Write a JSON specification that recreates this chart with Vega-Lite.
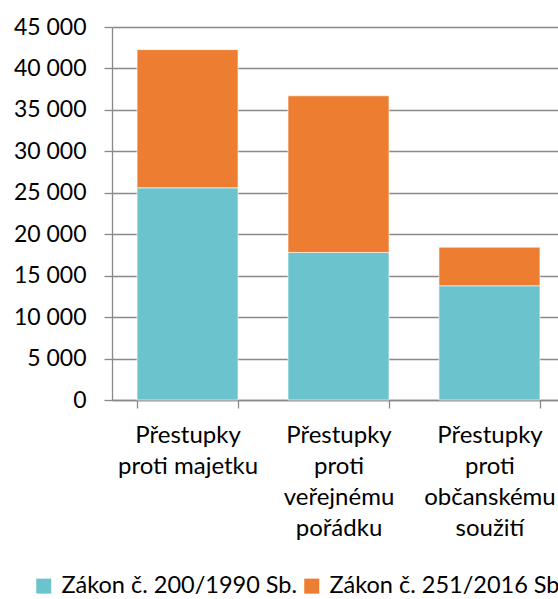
{
  "$schema": "https://vega.github.io/schema/vega-lite/v6.json",
  "autosize": "none",
  "width": 453,
  "height": 373,
  "padding": {"left": 112, "top": 27, "right": 0, "bottom": 199},
  "background": "white",
  "config": {
    "font": "Lato",
    "view": {"stroke": null}
  },
  "data": {
    "values": [
      {"kat": "Přestupky|proti majetku", "zakon": "Zákon č. 200/1990 Sb.", "pocet": 25600},
      {"kat": "Přestupky|proti majetku", "zakon": "Zákon č. 251/2016 Sb.", "pocet": 16670},
      {"kat": "Přestupky|proti|veřejnému|pořádku", "zakon": "Zákon č. 200/1990 Sb.", "pocet": 17800},
      {"kat": "Přestupky|proti|veřejnému|pořádku", "zakon": "Zákon č. 251/2016 Sb.", "pocet": 18900},
      {"kat": "Přestupky|proti|občanskému|soužití", "zakon": "Zákon č. 200/1990 Sb.", "pocet": 13780},
      {"kat": "Přestupky|proti|občanskému|soužití", "zakon": "Zákon č. 251/2016 Sb.", "pocet": 4660}
    ]
  },
  "mark": {"type": "bar", "stroke": "#ffffff", "strokeWidth": 0.6},
  "encoding": {
    "x": {
      "field": "kat",
      "type": "nominal",
      "sort": null,
      "scale": {"paddingInner": 0.331, "paddingOuter": 0.166},
      "axis": {
        "title": null,
        "labelAngle": 0,
        "labelExpr": "split(datum.label, '|')",
        "labelFontSize": 24,
        "labelColor": "#000000",
        "labelLineHeight": 31,
        "labelBaseline": "top",
        "labelPadding": 15,
        "labelLimit": 300,
        "tickBand": "extent",
        "tickSize": 8,
        "tickColor": "#898989",
        "tickWidth": 1.3,
        "domainColor": "#898989",
        "domainWidth": 1.3,
        "grid": false
      }
    },
    "y": {
      "field": "pocet",
      "type": "quantitative",
      "stack": "zero",
      "scale": {"domain": [0, 45000], "nice": false},
      "axis": {
        "title": null,
        "values": [0, 5000, 10000, 15000, 20000, 25000, 30000, 35000, 40000, 45000],
        "labelExpr": "replace(format(datum.value, ',d'), ',', ' ')",
        "labelFontSize": 23,
        "labelColor": "#000000",
        "labelPadding": 18,
        "tickSize": 8,
        "tickColor": "#898989",
        "tickWidth": 1.3,
        "domainColor": "#898989",
        "domainWidth": 1.3,
        "grid": true,
        "gridColor": "#898989",
        "gridWidth": 1.3
      }
    },
    "order": {"field": "zakon", "sort": "ascending"},
    "color": {
      "field": "zakon",
      "type": "nominal",
      "scale": {
        "domain": ["Zákon č. 200/1990 Sb.", "Zákon č. 251/2016 Sb."],
        "range": ["#6BC3CD", "#ED7D31"]
      },
      "legend": {
        "title": null,
        "orient": "none",
        "direction": "horizontal",
        "legendX": -80,
        "legendY": 547,
        "symbolType": "square",
        "symbolSize": 225,
        "symbolStrokeWidth": 0,
        "labelFontSize": 23.5,
        "labelColor": "#000000",
        "labelOffset": 6,
        "columnPadding": 2,
        "labelLimit": 400
      }
    }
  }
}
